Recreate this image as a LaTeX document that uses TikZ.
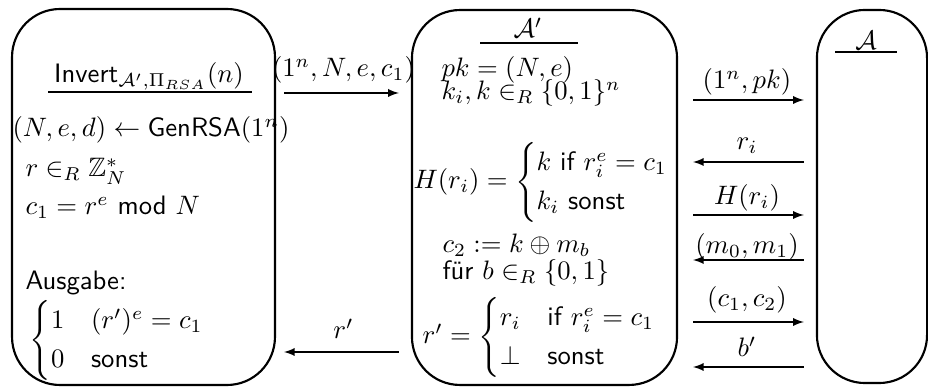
\documentclass[tikz,border=0pt]{standalone}
\usepackage{amsmath}
\usepackage{amssymb}
\usetikzlibrary{arrows,positioning}

\begin{document}
\begin{tikzpicture}[x=0.375pt, y=-0.375pt, >=latex,
    party/.style={rectangle, draw, thick, rounded corners=18pt},
    txt/.style={anchor=base west, inner sep=0pt},
    ttl/.style={anchor=base, inner sep=0pt},
    lab/.style={anchor=base, inner sep=0pt}]
    \useasboundingbox (0,0) rectangle (928,387);

    \node [party, minimum width=98.6pt, minimum height=141pt] (invert) at (143.5,197) {};
    \node [party, minimum width=99.4pt, minimum height=140.6pt] (advp) at (544.5,197.5) {};
    \node [party, minimum width=41.3pt, minimum height=139.9pt] (adv) at (872,196.5) {};

    \node [ttl] (invtitle) at (149,83) {\textsf{Invert}$_{\mathcal{A}',\Pi_{RSA}}(n)$};
    \draw (48,92) -- (252,92);
    \node [txt] (gen) at (12,137) {$(N,e,d) \leftarrow \textsf{GenRSA}(1^n)$};
    \node [txt] (rsel) at (25,177) {$r \in_R \mathbb{Z}_N^*$};
    \node [txt] (cone) at (25,215) {$c_1 = r^e$ \textsf{mod} $N$};
    \node [txt] (out) at (25,290) {\textsf{Ausgabe:}};
    \node [txt] (outcases) at (29,347) {$\begin{cases} 1 & (r')^e = c_1\\ 0 & \textsf{sonst}\end{cases}$};

    \node [ttl] (advptitle) at (528,38) {$\mathcal{A}'$};
    \draw (480,43) -- (578,43);
    \node [txt] (pk) at (441,77) {$pk = (N,e)$};
    \node [txt] (keys) at (441,100) {$k_i, k \in_R \{0,1\}^n$};
    \node [txt] (hash) at (413,189) {$H(r_i) = \begin{cases} k \textsf{ if } r_i^e = c_1\\ k_i \textsf{ sonst}\end{cases}$};
    \node [txt] (ctwo) at (442,253) {$c_2 := k \oplus m_b$};
    \node [txt] (bsel) at (442,280) {\textsf{für} $b \in_R \{0,1\}$};
    \node [txt] (rprime) at (422,344) {$r' = \begin{cases} r_i & \textsf{if } r_i^e = c_1\\ \bot & \textsf{sonst}\end{cases}$};

    \node [ttl] (advtitle) at (866,50) {$\mathcal{A}$};
    \draw (835,52) -- (897,52);

    \coordinate (y1) at (0,93);
    \coordinate (y2) at (0,352);
    \coordinate (y3) at (0,100);
    \coordinate (y4) at (0,162);
    \coordinate (y5) at (0,215);
    \coordinate (y6) at (0,260);
    \coordinate (y7) at (0,322);
    \coordinate (y8) at (0,367);

    \draw [->, shorten <=3pt, shorten >=4.5pt] (invert.east |- y1) -- node [lab, yshift=6pt] {$(1^n,N,e,c_1)$} (advp.west |- y1);
    \draw [->, shorten <=4.5pt, shorten >=3pt] (advp.west |- y2) -- node [lab, yshift=4.9pt] {$r'$} (invert.east |- y2);
    \draw [->, shorten <=5.6pt, shorten >=4.5pt] (advp.east |- y3) -- node [lab, yshift=4.2pt] {$(1^n,pk)$} (adv.west |- y3);
    \draw [->, shorten <=4.5pt, shorten >=5.6pt] (adv.west |- y4) -- node [lab, yshift=4.5pt] {$r_i$} (advp.east |- y4);
    \draw [->, shorten <=5.6pt, shorten >=4.5pt] (advp.east |- y5) -- node [lab, yshift=3.9pt] {$H(r_i)$} (adv.west |- y5);
    \draw [->, shorten <=4.5pt, shorten >=5.6pt] (adv.west |- y6) -- node [lab, yshift=2.4pt] {$(m_0,m_1)$} (advp.east |- y6);
    \draw [->, shorten <=5.6pt, shorten >=4.5pt] (advp.east |- y7) -- node [lab, yshift=5.7pt] {$(c_1,c_2)$} (adv.west |- y7);
    \draw [->, shorten <=4.5pt, shorten >=5.6pt] (adv.west |- y8) -- node [lab, yshift=3.75pt] {$b'$} (advp.east |- y8);
\end{tikzpicture}
\end{document}
